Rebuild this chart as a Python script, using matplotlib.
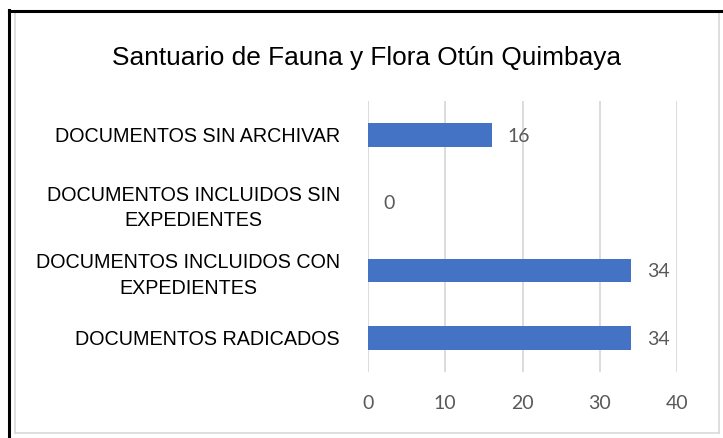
import matplotlib
matplotlib.use("Agg")
import matplotlib.pyplot as plt
from matplotlib.lines import Line2D

categorias = [
    "DOCUMENTOS RADICADOS",
    "DOCUMENTOS INCLUIDOS CON\nEXPEDIENTES",
    "DOCUMENTOS INCLUIDOS SIN\nEXPEDIENTES",
    "DOCUMENTOS SIN ARCHIVAR",
]
valores = [34, 34, 0, 16]
ticks_x = [0, 10, 20, 30, 40]
titulo = "Santuario de Fauna y Flora Otún Quimbaya"

SANS = ["Liberation Sans", "DejaVu Sans"]
NUM = ["Lato", "DejaVu Sans"]
AZUL = "#4472C4"
GRIS = "#595959"

fig = plt.figure(figsize=(7.23, 4.38), dpi=100)
ax = fig.add_axes([0.5086, 0.1514, 0.4282, 0.618])

y = range(len(categorias))
ax.barh(y, valores, height=0.345, color=AZUL, zorder=3)
ax.set_ylim(-0.5, len(categorias) - 0.5)
ax.set_xlim(0, 40)
ax.set_xticks(ticks_x)
ax.set_yticks(list(y))
ax.set_yticklabels(categorias, fontfamily=SANS, fontsize=14.2, color="black",
                   multialignment="center", linespacing=1.45)
for lbl in ax.get_xticklabels():
    lbl.set_fontfamily(NUM)
    lbl.set_fontsize(14)
    lbl.set_color(GRIS)
ax.tick_params(axis="y", length=0, pad=20)
ax.tick_params(axis="x", length=0, pad=17)
ax.grid(axis="x", color="#D9D9D9", linewidth=1.3, zorder=0)
for s in ax.spines.values():
    s.set_visible(False)

for yi, v in zip(y, valores):
    ax.annotate(str(v), (v, yi), xytext=(11.5, -1), textcoords="offset points",
                va="center", ha="left", fontfamily=NUM, fontsize=14, color=GRIS)

fig.text(0.507, 0.867, titulo, ha="center", va="center", fontfamily=SANS,
         fontsize=18.9, color="black")

# marco del gráfico y borde negro del documento
W, H = 723, 438
def fx(px): return px / W
def fy(py): return 1 - py / H
fig.add_artist(Line2D([fx(15), fx(15)], [fy(12), fy(433)], color="#D9D9D9", lw=1.2))
fig.add_artist(Line2D([fx(719), fx(719)], [fy(12), fy(433)], color="#D9D9D9", lw=1.2))
fig.add_artist(Line2D([fx(15), fx(719)], [fy(433), fy(433)], color="#D9D9D9", lw=1.2))
fig.add_artist(Line2D([fx(9), fx(9)], [fy(10), fy(438)], color="black", lw=2.2))
fig.add_artist(Line2D([fx(9), fx(723)], [fy(11), fy(11)], color="black", lw=2.2))

fig.savefig("out.png", dpi=100)
